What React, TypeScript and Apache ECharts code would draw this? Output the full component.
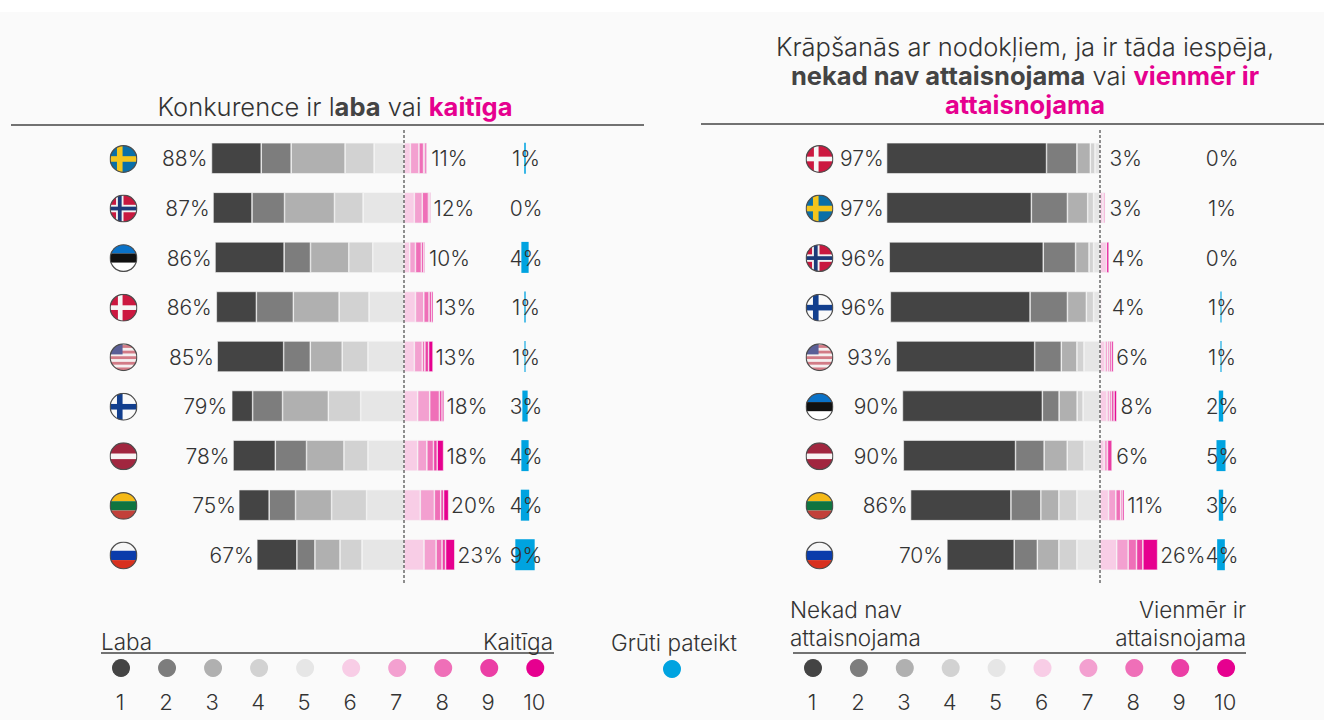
import React, { useEffect, useRef } from "react";
import * as echarts from "echarts";

// ---------- data ----------
const leftCountries = ["Sweden", "Norway", "Estonia", "Denmark", "USA", "Finland", "Latvia", "Lithuania", "Russia"];
const leftNegPct = [88, 87, 86, 86, 85, 79, 78, 75, 67];
const leftPosPct = [11, 12, 10, 13, 13, 18, 18, 20, 23];
const leftBluePct = [1, 0, 4, 1, 1, 3, 4, 4, 9];
const leftBlueBars = [0.7, 0, 3.3, 0.6, 0.5, 2.4, 3.3, 3.8, 8.8];
const left1 = [22.6, 17.7, 31.4, 18.2, 30.2, 9.5, 19.2, 13.8, 18.2];
const left2 = [13.6, 14.8, 12, 16.8, 12.1, 13.6, 14.2, 12, 8.2];
const left3 = [24.5, 22.7, 17.4, 20.8, 14.5, 20.8, 17, 16.4, 11.4];
const left4 = [13.2, 13, 10.9, 13.6, 11.7, 14.7, 10.9, 15.9, 10];
const left5 = [13.6, 18.6, 14.2, 15.9, 16.4, 19.7, 16.4, 17, 19.1];
const left6 = [2.9, 4.7, 2.6, 5.2, 4.7, 6.2, 6.2, 7.4, 9.1];
const left7 = [3.9, 3.6, 2.6, 3.8, 3.6, 5.5, 4.2, 6.4, 5.5];
const left8 = [2.1, 2.8, 2.7, 2.4, 1.2, 4.4, 3, 2.9, 2.7];
const left9 = [0.6, 0.6, 1, 1.1, 1.7, 1.2, 1.7, 1.3, 1.6];
const left10 = [0.8, 0.5, 0.6, 0.8, 2, 0.9, 2.9, 2.3, 4.2];

const rightCountries = ["Denmark", "Sweden", "Norway", "Finland", "USA", "Estonia", "Latvia", "Lithuania", "Russia"];
const rightNegPct = [97, 97, 96, 96, 93, 90, 90, 86, 70];
const rightPosPct = [3, 3, 4, 4, 6, 8, 6, 11, 26];
const rightBluePct = [0, 1, 0, 1, 1, 2, 5, 3, 4];
const rightBlueBars = [0, 0, 0, 0.5, 0.5, 2, 4.1, 2, 3.5];
const right1 = [72.7, 65.8, 70, 63.5, 62.9, 63.6, 51, 45.6, 30.6];
const right2 = [13.8, 16.4, 14.7, 17, 12.1, 7.6, 13, 13.6, 10.5];
const right3 = [6.1, 9.2, 6.1, 8.6, 7.1, 8.2, 10.5, 8.2, 9.8];
const right4 = [2.1, 2.7, 2.1, 3.3, 3.2, 2.7, 7.6, 8.2, 8.2];
const right5 = [2.3, 2.9, 2.9, 2.9, 7.3, 7.7, 7.3, 10.5, 10.5];
const right6 = [0.4, 1.4, 3, 0.4, 2.3, 3.2, 1.9, 3.9, 7.6];
const right7 = [0, 1, 0, 0.4, 1.2, 1.1, 1.5, 3.3, 5.2];
const right8 = [0, 0, 0, 0, 0.8, 0.9, 0, 2.2, 3.8];
const right9 = [0, 0, 0, 0, 0.9, 1.2, 2.1, 0.7, 2.9];
const right10 = [0, 0, 1.1, 0, 0.9, 1.2, 0, 0.9, 6.7];

const palette = ["#444444", "#7d7d7d", "#b0b0b0", "#d2d2d2", "#e6e6e6", "#f8cde6", "#f3a0d0", "#ef6fb8", "#eb3ea5", "#e6008f"];
const blue = "#00a3e0";
const legendSteps = ["1", "2", "3", "4", "5", "6", "7", "8", "9", "10"];

// ---------- styling ----------
const FONT = "Inter, 'Noto Sans', sans-serif";
const INK = "#333333";
const PX_PER_PCT = 2.2;
const GRID_TOP = 133.5;
const GRID_H = 446;
const BAR_H = 31;
const FLAG_X = -127.5;
const BLUE_X = 55;
const FLAG_SIZE = 28;

const flagBody: Record<string, string> = {
  Sweden:
    '<rect width="30" height="30" fill="#0a6fa8"/><rect x="8" width="6" height="30" fill="#f4c51c"/><rect y="12" width="30" height="6" fill="#f4c51c"/>',
  Norway:
    '<rect width="30" height="30" fill="#c8183f"/><rect x="7" width="8" height="30" fill="#f2f2f2"/><rect y="11" width="30" height="8" fill="#f2f2f2"/><rect x="9" width="4" height="30" fill="#1d3a78"/><rect y="13" width="30" height="4" fill="#1d3a78"/>',
  Estonia:
    '<rect width="30" height="10" fill="#0a72c8"/><rect y="10" width="30" height="10" fill="#111111"/><rect y="20" width="30" height="10" fill="#ffffff"/>',
  Denmark:
    '<rect width="30" height="30" fill="#cc1840"/><rect x="9" width="5" height="30" fill="#f6f6f6"/><rect y="12.5" width="30" height="5" fill="#f6f6f6"/>',
  USA:
    '<rect width="30" height="30" fill="#f5f0f0"/><rect y="2" width="30" height="3" fill="#d27b86"/><rect y="8" width="30" height="3" fill="#d27b86"/><rect y="14" width="30" height="3" fill="#d27b86"/><rect y="20" width="30" height="3" fill="#d27b86"/><rect y="26" width="30" height="3" fill="#d27b86"/><rect width="14" height="12" fill="#5a5f97"/>',
  Finland:
    '<rect width="30" height="30" fill="#fafafa"/><rect x="8" width="6" height="30" fill="#123f8e"/><rect y="12" width="30" height="6" fill="#123f8e"/>',
  Latvia:
    '<rect width="30" height="30" fill="#a1263f"/><rect y="12" width="30" height="6" fill="#f8f4f4"/>',
  Lithuania:
    '<rect width="30" height="10" fill="#f5b916"/><rect y="10" width="30" height="10" fill="#0f7440"/><rect y="20" width="30" height="10" fill="#c2403a"/>',
  Russia:
    '<rect width="30" height="10" fill="#f6f6f6"/><rect y="10" width="30" height="10" fill="#0a3cab"/><rect y="20" width="30" height="10" fill="#d8301e"/>',
};

function flagUrl(name: string) {
  const svg =
    '<svg xmlns="http://www.w3.org/2000/svg" viewBox="0 0 30 30" width="30" height="30">' +
    '<defs><clipPath id="c"><circle cx="15" cy="15" r="14.4"/></clipPath></defs>' +
    '<g clip-path="url(#c)">' + flagBody[name] + "</g>" +
    '<circle cx="15" cy="15" r="14.3" fill="none" stroke="#4d4d4d" stroke-width="1.3"/></svg>';
  return "data:image/svg+xml;charset=utf-8," + encodeURIComponent(svg);
}

function panelSeries(
  idx: number,
  segs: number[][],
  countries: string[],
  negPct: number[],
  posPct: number[],
  bluePct: number[],
  blueBars: number[]
) {
  const order = [4, 3, 2, 1, 0, 5, 6, 7, 8, 9];
  const bars = order.map((k) => ({
    type: "bar",
    name: legendSteps[k],
    xAxisIndex: idx,
    yAxisIndex: idx,
    stack: "p" + idx,
    barWidth: BAR_H,
    silent: true,
    itemStyle: {
      color: palette[k],
      borderColor: "#f6f6f6",
      borderWidth: 0.6,
    },
    data: segs[k].map((v) => (v === 0 ? null : k < 5 ? -v : v)),
  }));
  const rows = countries.map((_, i) => [0, i]);
  const textStyle = { fontFamily: FONT, fontSize: 21, fontWeight: 300, fill: INK, verticalAlign: "middle" };
  const custom = (render: any) => ({
    type: "custom",
    xAxisIndex: idx,
    yAxisIndex: idx,
    silent: true,
    encode: { x: 0, y: 1 },
    data: rows,
    renderItem: render,
  });
  return [
    ...bars,
    custom((p: any, api: any) => {
      const [x, y] = api.coord([BLUE_X, p.dataIndex]);
      const w = blueBars[p.dataIndex] * PX_PER_PCT;
      return { type: "rect", shape: { x: x - w / 2, y: y - BAR_H / 2, width: w, height: BAR_H }, style: { fill: blue } };
    }),
    custom((p: any, api: any) => {
      const [x, y] = api.coord([FLAG_X, p.dataIndex]);
      return {
        type: "image",
        style: { image: flagUrl(countries[p.dataIndex]), x: x - FLAG_SIZE / 2, y: y - FLAG_SIZE / 2 + 0.7, width: FLAG_SIZE, height: FLAG_SIZE },
      };
    }),
    custom((p: any, api: any) => {
      const v = negPct[p.dataIndex];
      const [x, y] = api.coord([-v, p.dataIndex]);
      return { type: "text", style: { ...textStyle, text: v + "%", x: x - 3, y: y + 0.7, align: "right" } };
    }),
    custom((p: any, api: any) => {
      const v = posPct[p.dataIndex];
      const [x, y] = api.coord([v, p.dataIndex]);
      return { type: "text", style: { ...textStyle, text: v + "%", x: x + 3, y: y + 0.7, align: "left" } };
    }),
    custom((p: any, api: any) => {
      const [x, y] = api.coord([BLUE_X, p.dataIndex]);
      return { type: "text", style: { ...textStyle, text: bluePct[p.dataIndex] + "%", x: x + 1, y: y + 0.7, align: "center" } };
    }),
  ];
}

function legendGraphics(x0: number, step: number) {
  const out: any[] = [];
  legendSteps.forEach((label, i) => {
    const x = x0 + step * i;
    out.push({ type: "circle", shape: { cx: x, cy: 668, r: 9 }, style: { fill: palette[i] }, silent: true });
    out.push({
      type: "text",
      style: { text: label, x: x - 1, y: 702, align: "center", verticalAlign: "middle", fontFamily: FONT, fontSize: 22, fontWeight: 300, fill: INK },
      silent: true,
    });
  });
  return out;
}

const hline = (x1: number, x2: number, y: number) => ({
  type: "line",
  shape: { x1, y1: y, x2, y2: y },
  style: { stroke: "#444444", lineWidth: 1.3 },
  silent: true,
});
const zeroLine = (x: number) => ({
  type: "line",
  shape: { x1: x, y1: 130, x2: x, y2: 583 },
  style: { stroke: "#222222", lineWidth: 1, lineDash: [3, 2] },
  silent: true,
  z: 20,
});
const caption = (text: string, x: number, y: number, align: string) => ({
  type: "text",
  style: { text, x, y, align, verticalAlign: "middle", fontFamily: FONT, fontSize: 22.5, fontWeight: 300, fill: INK, lineHeight: 28 },
  silent: true,
});

const TITLE_SIZE = 25.5;
const rich = {
  n: { fontFamily: FONT, fontSize: TITLE_SIZE, fontWeight: 300, color: INK, lineHeight: 29 },
  b: { fontFamily: FONT, fontSize: TITLE_SIZE, fontWeight: 700, color: "#444444", lineHeight: 29 },
  p: { fontFamily: FONT, fontSize: TITLE_SIZE, fontWeight: 700, color: "#e6008f", lineHeight: 29 },
};

export default function App() {
  const ref = useRef<HTMLDivElement>(null);
  useEffect(() => {
    const chart = echarts.init(ref.current!, null, { renderer: "svg" });
    const leftMin = -180, leftMax = 68, rightMin = -145, rightMax = 62;
    chart.setOption({
      animation: false,
      backgroundColor: "#ffffff",
      title: [
        {
          text: "{n|Konkurence ir l}{b|aba}{n| vai }{p|kaitīga}",
          left: 335,
          top: 92,
          textAlign: "center",
          padding: 0,
          textStyle: { rich },
        },
        {
          text: "{n|Krāpšanās ar nodokļiem, ja ir tāda iespēja,}\n{b|nekad nav attaisnojama}{n| vai }{p|vienmēr ir}\n{p|attaisnojama}",
          left: 1025,
          top: 32,
          textAlign: "center",
          padding: 0,
          textStyle: { rich },
        },
      ],
      grid: [
        { left: 404 + leftMin * PX_PER_PCT, width: (leftMax - leftMin) * PX_PER_PCT, top: GRID_TOP, height: GRID_H },
        { left: 1100 + rightMin * PX_PER_PCT, width: (rightMax - rightMin) * PX_PER_PCT, top: GRID_TOP, height: GRID_H },
      ],
      xAxis: [
        { type: "value", gridIndex: 0, min: leftMin, max: leftMax, show: false },
        { type: "value", gridIndex: 1, min: rightMin, max: rightMax, show: false },
      ],
      yAxis: [
        { type: "category", gridIndex: 0, inverse: true, data: leftCountries, show: false },
        { type: "category", gridIndex: 1, inverse: true, data: rightCountries, show: false },
      ],
      graphic: [
        { type: "rect", shape: { x: 0, y: 12, width: 1324, height: 708 }, style: { fill: "#fafafa" }, silent: true, z: -10 },
        hline(11, 644, 125),
        hline(701, 1324, 124),
        zeroLine(404),
        zeroLine(1100),
        hline(101, 554, 653),
        hline(793, 1246, 653),
        caption("Laba", 101, 641, "left"),
        caption("Kaitīga", 553, 641, "right"),
        caption("Grūti pateikt", 674, 642, "center"),
        caption("Nekad nav\nattaisnojama", 790, 623, "left"),
        caption("Vienmēr ir\nattaisnojama", 1246, 623, "right"),
        ...legendGraphics(121, 46.03),
        ...legendGraphics(813, 45.9),
        { type: "circle", shape: { cx: 672, cy: 669, r: 9 }, style: { fill: blue }, silent: true },
      ],
      series: [
        ...panelSeries(0, [left1, left2, left3, left4, left5, left6, left7, left8, left9, left10], leftCountries, leftNegPct, leftPosPct, leftBluePct, leftBlueBars),
        ...panelSeries(1, [right1, right2, right3, right4, right5, right6, right7, right8, right9, right10], rightCountries, rightNegPct, rightPosPct, rightBluePct, rightBlueBars),
      ],
    });
    return () => chart.dispose();
  }, []);
  return <div ref={ref} style={{ position: "absolute", left: 0, top: 0, width: 1324, height: 720 }} />;
}
